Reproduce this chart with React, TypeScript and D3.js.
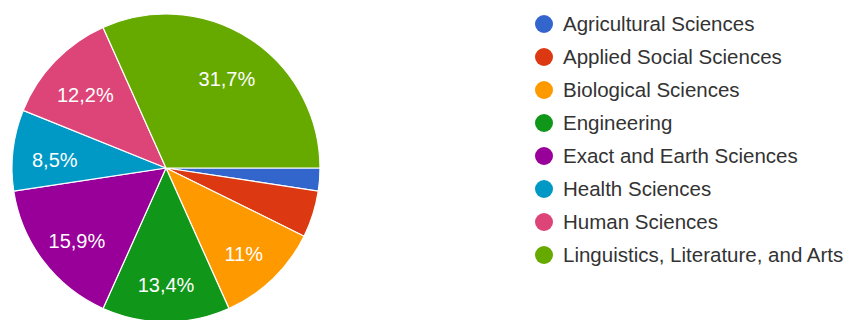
import React from "react";
import * as d3 from "d3";

const categories = [
  "Agricultural Sciences",
  "Applied Social Sciences",
  "Biological Sciences",
  "Engineering",
  "Exact and Earth Sciences",
  "Health Sciences",
  "Human Sciences",
  "Linguistics, Literature, and Arts",
];
const values = [2.4, 4.9, 11, 13.4, 15.9, 8.5, 12.2, 31.7];
const colors = ["#3366cc", "#dc3912", "#ff9900", "#109618", "#990099", "#0099c6", "#dd4477", "#66aa00"];

const W = 850;
const H = 320;
const cx = 166;
const cy = 168;
const R = 154;
const labelR = 112;
const minLabel = 5;

const fmt = (v: number) => String(v).replace(".", ",") + "%";

export default function App() {
  const data = categories.map((c, i) => ({ name: c, value: values[i], color: colors[i] }));
  const pie = d3
    .pie<any>()
    .sort(null)
    .value((d: any) => d.value)
    .startAngle(Math.PI / 2)
    .endAngle(Math.PI / 2 + 2 * Math.PI);
  const arcs = pie(data);
  const arc = d3.arc<any>().innerRadius(0).outerRadius(R);
  const labelArc = d3.arc<any>().innerRadius(labelR).outerRadius(labelR);

  const legendY = d3.scalePoint<string>().domain(categories).range([24, 255]);

  return (
    <svg
      width={W}
      height={H}
      style={{ position: "absolute", left: 0, top: 0, background: "#fff" }}
      fontFamily="'Liberation Sans', Arial, sans-serif"
    >
      <g transform={`translate(${cx},${cy})`}>
        {arcs.map((a, i) => (
          <path key={i} d={arc(a) as string} fill={a.data.color} stroke="#fff" strokeWidth={1.2} />
        ))}
        {arcs.map((a, i) => {
          if (a.data.value < minLabel) return null;
          const [x, y] = labelArc.centroid(a);
          return (
            <text
              key={"l" + i}
              x={x}
              y={y}
              textAnchor="middle"
              dy="0.6em"
              fill="#fff"
              fontSize={20}
            >
              {fmt(a.data.value)}
            </text>
          );
        })}
      </g>
      <g>
        {categories.map((c, i) => (
          <g key={c} transform={`translate(0,${legendY(c)})`}>
            <circle cx={544} cy={0} r={9} fill={colors[i]} />
            <text x={563} y={0} dy="0.36em" fontSize={20.5} fill="#333">
              {c}
            </text>
          </g>
        ))}
      </g>
    </svg>
  );
}
